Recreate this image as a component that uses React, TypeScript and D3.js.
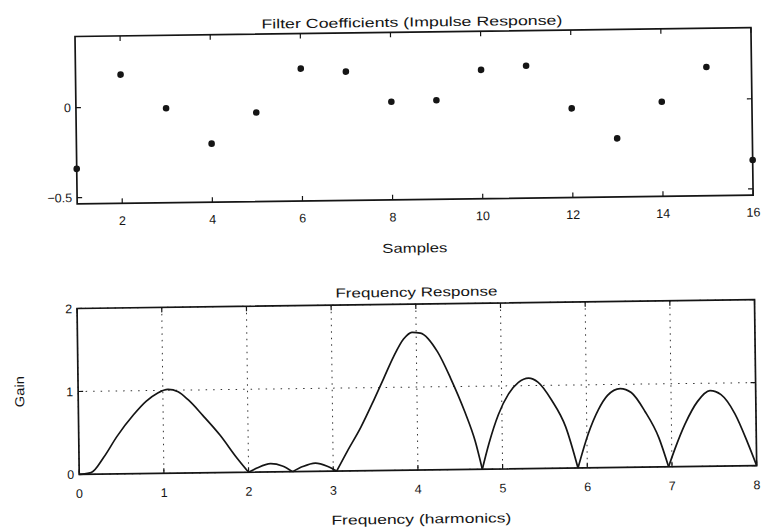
import React from "react";
import * as d3 from "d3";

// ---- Data: top plot (filter coefficients) ----
const sampleIndex = [1, 2, 3, 4, 5, 6, 7, 8, 9, 10, 11, 12, 13, 14, 15, 16];
const coefficients = [-0.34, 0.18, -0.01, -0.21, -0.04, 0.2, 0.18, 0.01, 0.015, 0.18, 0.2, -0.04, -0.21, -0.01, 0.18, -0.34];
const sampleTicks = [2, 4, 6, 8, 10, 12, 14, 16];
const coefTicks = [-0.5, 0];
const coefTickLabels = ["\u22120.5", "0"];

// ---- Data: bottom plot (frequency response) ----
const freq = [
  0, 0.14, 0.29, 0.45, 0.65, 0.8, 0.94, 1.06, 1.18, 1.3, 1.47, 1.67, 1.86, 2.0,
  2.1, 2.26, 2.4, 2.52,
  2.64, 2.79, 2.93, 3.04,
  3.17, 3.33, 3.49, 3.61, 3.73, 3.85, 3.95, 4.05, 4.25, 4.4, 4.56, 4.68, 4.76,
  4.84, 4.96, 5.08, 5.2, 5.32, 5.43, 5.59, 5.75, 5.89,
  6.02, 6.14, 6.25, 6.4, 6.53, 6.69, 6.85, 6.96,
  7.04, 7.16, 7.31, 7.46, 7.59, 7.75, 7.9, 8.0,
];
const gain = [
  0, 0.02, 0.2, 0.45, 0.71, 0.87, 0.97, 1.01, 0.98, 0.88, 0.69, 0.45, 0.18, 0,
  0.05, 0.1, 0.07, 0,
  0.06, 0.1, 0.06, 0,
  0.24, 0.52, 0.85, 1.11, 1.37, 1.58, 1.66, 1.65, 1.42, 1.1, 0.7, 0.34, 0,
  0.3, 0.66, 0.9, 1.04, 1.09, 1.04, 0.82, 0.5, 0,
  0.42, 0.7, 0.87, 0.95, 0.9, 0.67, 0.35, 0,
  0.22, 0.51, 0.78, 0.91, 0.86, 0.63, 0.27, 0,
];
const freqTicks = [0, 1, 2, 3, 4, 5, 6, 7, 8];
const gainTicks = [0, 1, 2];

const topTitle = "Filter Coefficients (Impulse Response)";
const topXLabel = "Samples";
const bottomTitle = "Frequency Response";
const bottomXLabel = "Frequency (harmonics)";
const bottomYLabel = "Gain";

const FONT = "'Liberation Sans', Arial, Helvetica, sans-serif";
const INK = "#151515";

export default function App() {
  // top plot frame
  const T = { left: 78, right: 754, top: 32.5, bottom: 200 };
  // bottom plot frame
  const B = { left: 76.5, right: 754, top: 304.5, bottom: 470.5 };

  const xTop = d3.scaleLinear().domain([1, 16]).range([T.left, T.right]);
  const yTop = d3.scaleLinear().domain([-0.535, 0.395]).range([T.bottom, T.top]);
  const xBot = d3.scaleLinear().domain([0, 8]).range([B.left, B.right]);
  const yBot = d3.scaleLinear().domain([0, 2]).range([B.bottom, B.top]);

  // split the magnitude curve into lobes at its interior zeros so cusps stay sharp
  const pts: [number, number][] = freq.map((f, i) => [f, gain[i]]);
  const segments: [number, number][][] = [];
  let cur: [number, number][] = [];
  pts.forEach((p, i) => {
    cur.push(p);
    if (p[1] === 0 && i > 0 && i < pts.length - 1) {
      segments.push(cur);
      cur = [p];
    }
  });
  if (cur.length > 1) segments.push(cur);
  const line = d3
    .line<[number, number]>()
    .x((d) => xBot(d[0]))
    .y((d) => yBot(d[1]))
    .curve(d3.curveMonotoneX);

  const tickLen = 5;

  return (
    <svg
      width={763}
      height={529}
      style={{ position: "absolute", left: 0, top: 0, background: "#fff" }}
      fontFamily={FONT}
    >
      <rect x={0} y={0} width={763} height={529} fill="#fff" />
      <g transform="rotate(-0.75 381 264)">
        {/* ---------- TOP PLOT ---------- */}
        <rect
          x={T.left}
          y={T.top}
          width={T.right - T.left}
          height={T.bottom - T.top}
          fill="none"
          stroke={INK}
          strokeWidth={1.7}
        />
        {sampleTicks.map((t) => (
          <g key={"tx" + t}>
            <line x1={xTop(t)} x2={xTop(t)} y1={T.bottom} y2={T.bottom - tickLen} stroke={INK} strokeWidth={1.2} />
            <line x1={xTop(t)} x2={xTop(t)} y1={T.top} y2={T.top + tickLen} stroke={INK} strokeWidth={1.2} />
            <text x={xTop(t)} y={221.5} textAnchor="middle" fontSize={12.5} fill={INK}>
              {t}
            </text>
          </g>
        ))}
        {coefTicks.map((t, i) => (
          <g key={"ty" + t}>
            <line x1={T.left} x2={T.left + tickLen} y1={yTop(t)} y2={yTop(t)} stroke={INK} strokeWidth={1.2} />
            <line x1={T.right} x2={T.right - tickLen} y1={yTop(t)} y2={yTop(t)} stroke={INK} strokeWidth={1.2} />
            <text x={T.left - 5} y={yTop(t) + 4.5} textAnchor="end" fontSize={12.5} fill={INK}>
              {coefTickLabels[i]}
            </text>
          </g>
        ))}
        {sampleIndex.map((s, i) => (
          <circle key={"p" + s} cx={xTop(s)} cy={yTop(coefficients[i])} r={3.3} fill={INK} />
        ))}
        <text
          x={415}
          y={27}
          textAnchor="middle"
          fontSize={13}
          fill={INK}
          textLength={301}
          lengthAdjust="spacingAndGlyphs"
        >
          {topTitle}
        </text>
        <text
          x={415}
          y={253}
          textAnchor="middle"
          fontSize={13}
          fill={INK}
          textLength={65}
          lengthAdjust="spacingAndGlyphs"
        >
          {topXLabel}
        </text>

        {/* ---------- BOTTOM PLOT ---------- */}
        {freqTicks.map((t) => (
          <line
            key={"gx" + t}
            x1={xBot(t)}
            x2={xBot(t)}
            y1={B.top}
            y2={B.bottom}
            stroke="#333"
            strokeWidth={1}
            strokeDasharray="1.5,5"
          />
        ))}
        {gainTicks.map((t) => (
          <line
            key={"gy" + t}
            x1={B.left}
            x2={B.right}
            y1={yBot(t)}
            y2={yBot(t)}
            stroke="#333"
            strokeWidth={1}
            strokeDasharray="1.5,6"
          />
        ))}
        <rect
          x={B.left}
          y={B.top}
          width={B.right - B.left}
          height={B.bottom - B.top}
          fill="none"
          stroke={INK}
          strokeWidth={1.7}
        />
        {freqTicks.map((t) => (
          <g key={"bx" + t}>
            <line x1={xBot(t)} x2={xBot(t)} y1={B.bottom} y2={B.bottom - tickLen} stroke={INK} strokeWidth={1.2} />
            <line x1={xBot(t)} x2={xBot(t)} y1={B.top} y2={B.top + tickLen} stroke={INK} strokeWidth={1.2} />
            <text x={xBot(t)} y={494} textAnchor="middle" fontSize={12.5} fill={INK}>
              {t}
            </text>
          </g>
        ))}
        {gainTicks.map((t) => (
          <g key={"by" + t}>
            <line x1={B.left} x2={B.left + tickLen} y1={yBot(t)} y2={yBot(t)} stroke={INK} strokeWidth={1.2} />
            <line x1={B.right} x2={B.right - tickLen} y1={yBot(t)} y2={yBot(t)} stroke={INK} strokeWidth={1.2} />
            <text x={B.left - 5} y={yBot(t) + 4.5} textAnchor="end" fontSize={12.5} fill={INK}>
              {t}
            </text>
          </g>
        ))}
        {segments.map((seg, i) => (
          <path key={"seg" + i} d={line(seg) || ""} fill="none" stroke={INK} strokeWidth={1.7} />
        ))}
        <text
          x={416}
          y={297}
          textAnchor="middle"
          fontSize={13}
          fill={INK}
          textLength={162}
          lengthAdjust="spacingAndGlyphs"
        >
          {bottomTitle}
        </text>
        <text
          x={418}
          y={524}
          textAnchor="middle"
          fontSize={13}
          fill={INK}
          textLength={180}
          lengthAdjust="spacingAndGlyphs"
        >
          {bottomXLabel}
        </text>
        <text
          transform="translate(22.5 387) rotate(-90)"
          textAnchor="middle"
          fontSize={13}
          fill={INK}
          textLength={31}
          lengthAdjust="spacingAndGlyphs"
        >
          {bottomYLabel}
        </text>
      </g>
    </svg>
  );
}
